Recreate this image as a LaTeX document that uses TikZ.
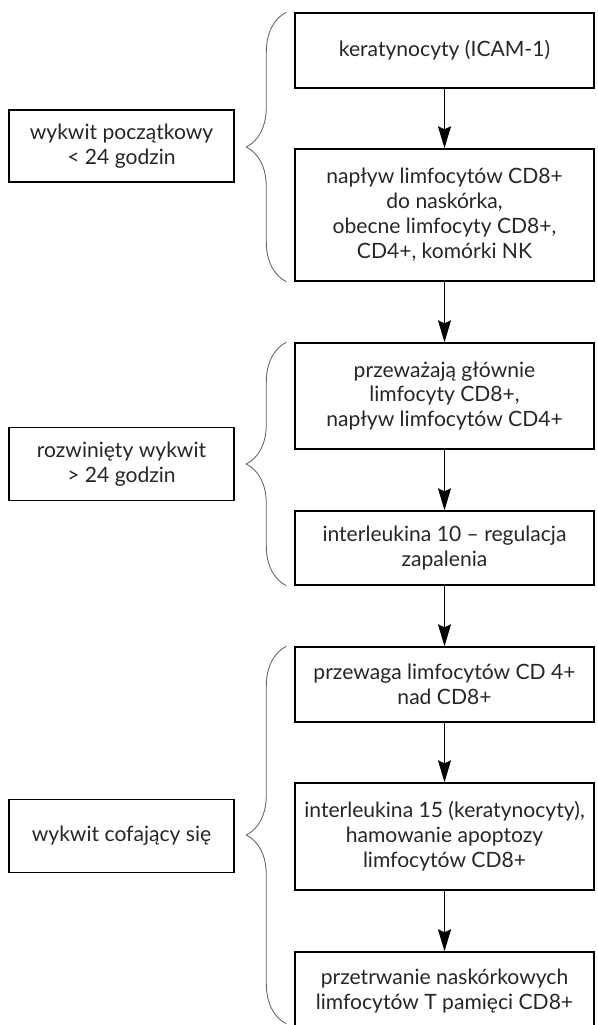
\documentclass[tikz,border=0pt]{standalone}
\usepackage{fontspec}
\setmainfont{Lato}
\usetikzlibrary{arrows.meta,decorations.pathreplacing}

\begin{document}
\begin{tikzpicture}[
      font=\fontsize{12}{14.2}\selectfont,
      box/.style={draw, line width=0.8pt, minimum width=5.98cm, align=center, inner sep=2pt, text=black!85},
      etap/.style={draw, line width=0.8pt, minimum width=4.5cm, minimum height=1.46cm, align=center, text=black!85},
      pfeil/.style={-{Stealth[length=0.44cm, width=0.26cm, inset=0.06cm]}, line width=0.7pt},
      klamra/.style={draw=black!60, line width=0.5pt, decorate, decoration={brace, amplitude=0.8cm}}
    ]
      \useasboundingbox (0,0) rectangle (11.94,-20.5);
      % prawa kolumna
      \node[box, minimum height=1.5cm] (keratyn) at (8.89,-1.01) {keratynocyty (ICAM-1)};
      \node[box, minimum height=2.64cm] (naplyw) at (8.89,-4.30) {napływ limfocytów CD8+\\ do naskórka,\\ obecne limfocyty CD8+,\\ CD4+, komórki NK};
      \node[box, minimum height=2.12cm] (przewazaja) at (8.89,-7.92) {przeważają głównie\\ limfocyty CD8+,\\ napływ limfocytów CD4+};
      \node[box, minimum height=1.48cm] (il10) at (8.89,-10.96) {interleukina 10 – regulacja\\ zapalenia};
      \node[box, minimum height=1.5cm] (przewaga) at (8.89,-13.69) {przewaga limfocytów CD 4+\\ nad CD8+};
      \node[box, minimum height=2.14cm] (il15) at (8.89,-16.73) {interleukina 15 (keratynocyty),\\ hamowanie apoptozy\\ limfocytów CD8+};
      \node[box, minimum height=1.56cm] (pamiec) at (8.89,-19.82) {przetrwanie naskórkowych\\ limfocytów T pamięci CD8+};
      % lewa kolumna
      \node[etap, minimum height=1.44cm] (poczatkowy) at (2.43,-2.92) {wykwit początkowy\\ < 24 godzin};
      \node[etap] (rozwiniety) at (2.43,-9.28) {rozwinięty wykwit\\ > 24 godzin};
      \node[etap] (cofajacy) at (2.43,-16.72) {wykwit cofający się};
      % strzalki
      \draw[pfeil] (keratyn) -- (naplyw);
      \draw[pfeil] (naplyw) -- (przewazaja);
      \draw[pfeil] (przewazaja) -- (il10);
      \draw[pfeil] (il10) -- (przewaga);
      \draw[pfeil] (przewaga) -- (il15);
      \draw[pfeil] (il15) -- (pamiec);
      % klamry
      \draw[klamra] ([xshift=-0.16cm]naplyw.south west) -- ([xshift=-0.16cm]keratyn.north west);
      \draw[klamra] ([xshift=-0.16cm]il10.south west) -- ([xshift=-0.16cm]przewazaja.north west);
      \draw[klamra] ([xshift=-0.16cm, yshift=0.14cm]pamiec.south west) -- ([xshift=-0.16cm]przewaga.north west);
    \end{tikzpicture}
\end{document}
